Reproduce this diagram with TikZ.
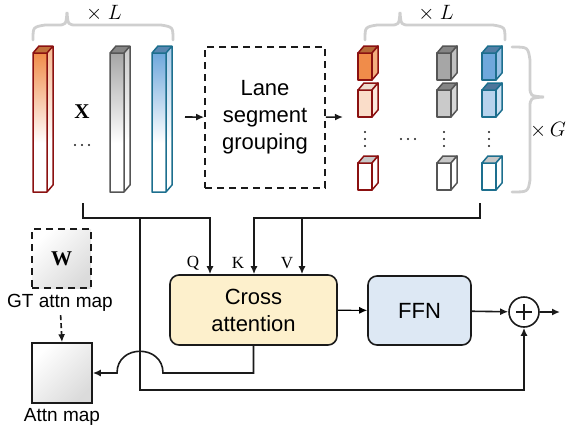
\documentclass[tikz,border=0pt]{standalone}
\usepackage{fontspec}
\setmainfont{Liberation Sans}
\newfontfamily\seriffont{Liberation Serif}
\usetikzlibrary{positioning,arrows.meta,calc}

\definecolor{darkink}{HTML}{1A1A1A}
\definecolor{bracegray}{HTML}{CFCFCF}
\definecolor{redline}{HTML}{8B1111}
\definecolor{grayline}{HTML}{555555}
\definecolor{blueline}{HTML}{1D6F8E}
\definecolor{orangefill}{HTML}{F08C4A}
\definecolor{grayfill}{HTML}{A6A6A6}
\definecolor{bluefill}{HTML}{6FA8DC}
\definecolor{crossfill}{HTML}{FDF0CC}
\definecolor{ffnfill}{HTML}{DDE8F4}

% tall feature bar: x, front colour, side colour, top colour, border
\newcommand{\featbar}[5]{%
  \shade[top color=#2, bottom color=white] (#1,53) rectangle (#1+14,143);
  \shade[top color=#3, bottom color=white] (#1+14,53) -- (#1+20,46) -- (#1+20,136) -- (#1+14,143) -- cycle;
  \fill[#4] (#1,53) -- (#1+6,46) -- (#1+20,46) -- (#1+14,53) -- cycle;
  \draw[#5, line width=1.5pt, line join=round] (#1,53) rectangle (#1+14,192)
    (#1,53) -- (#1+6,46) -- (#1+20,46) -- (#1+20,185) -- (#1+14,192)
    (#1+14,53) -- (#1+20,46);
}
% small segment cube: x, y, front, side, top, border
\newcommand{\segcube}[6]{%
  \filldraw[fill=#3, draw=#6, line width=1.5pt, line join=round] (#1,#2) rectangle (#1+14,#2+27);
  \filldraw[fill=#5, draw=#6, line width=1.5pt, line join=round] (#1,#2) -- (#1+6,#2-7) -- (#1+20,#2-7) -- (#1+14,#2) -- cycle;
  \filldraw[fill=#4, draw=#6, line width=1.5pt, line join=round] (#1+14,#2) -- (#1+20,#2-7) -- (#1+20,#2+20) -- (#1+14,#2+27) -- cycle;
}

\begin{document}
\begin{tikzpicture}[
  x=1pt, y=-1pt,
  block/.style={draw=darkink, line width=1.6pt, rounded corners=9pt, align=center, font=\fontsize{22}{27}\selectfont},
  arr/.style={-{Latex[length=8pt,width=7pt]}, line width=1.6pt, color=darkink},
  brace/.style={draw=bracegray, line width=2.8pt, line cap=round},
  lbl/.style={font=\fontsize{19}{22}\selectfont},
  mathlbl/.style={font=\fontsize{20}{22}\selectfont},
  boldlbl/.style={font=\seriffont\bfseries\fontsize{21}{21}\selectfont},
  qkv/.style={font=\seriffont\fontsize{17}{17}\selectfont},
  dot/.style={fill=darkink},
  mapbox/.style={draw=darkink, line width=1.6pt, top color=white, middle color=white, bottom color=black!14, shading angle=45},
  dashbox/.style={draw=darkink, line width=1.6pt, dash pattern=on 7pt off 5pt}
]
  \useasboundingbox (0,0) rectangle (568,429);

  % Per-layer features
  \featbar{33}{orangefill}{orangefill!60}{orangefill!80!black}{redline}
  \featbar{110}{grayfill}{grayfill!60}{grayfill!80!black}{grayline}
  \featbar{152}{bluefill}{bluefill!60}{bluefill!80!black}{blueline}
  \node[boldlbl] (xlbl) at (82,112) {X};
  \foreach \xx in {75,82,89}
    \fill[dot] (\xx,145) circle (1.2);
  \path[brace] (33,40) .. controls (33,27) .. (45,25) -- (57,25) .. controls (66,25) .. (67,12)
    .. controls (68,25) .. (77,25) -- (161,25) .. controls (173,27) .. (173,40);
  \node[mathlbl] (lbl_l1) at (104,13) {$\times\ L$};

  % Grouping
  \node[dashbox, minimum width=120pt, minimum height=141pt, align=center, font=\fontsize{22}{27}\selectfont] (lane) at (265,117.5) {Lane\\segment\\grouping};

  % Grouped segments
  \foreach \yy/\fr/\sd/\tp in {53/orangefill/orangefill!70/orangefill!75!black, 90/orangefill!30/orangefill!18/black!22!orangefill!25, 163/white/white/black!22}
    \segcube{358}{\yy}{\fr}{\sd}{\tp}{redline};
  \foreach \yy/\fr/\sd/\tp in {53/grayfill/grayfill!70/grayfill!80!black, 90/grayfill!60/grayfill!45/grayfill!80!black, 163/white/white/black!22}
    \segcube{437}{\yy}{\fr}{\sd}{\tp}{grayline};
  \foreach \yy/\fr/\sd/\tp in {53/bluefill/bluefill!70/bluefill!75!black, 90/bluefill!50/bluefill!35/bluefill!70!black, 163/white/white/black!22}
    \segcube{482}{\yy}{\fr}{\sd}{\tp}{blueline};
  \foreach \xx in {365,444,489}
    \foreach \yy in {132,139,146}
      \fill[dot] (\xx,\yy) circle (1.2);
  \foreach \xx in {401,408,415}
    \fill[dot] (\xx,139) circle (1.2);
  \path[brace] (365,40) .. controls (365,27) .. (377,25) -- (390,25) .. controls (399,25) .. (400,12)
    .. controls (401,25) .. (410,25) -- (493,25) .. controls (505,27) .. (505,40);
  \node[mathlbl] (lbl_l2) at (436,13) {$\times\ L$};
  \path[brace] (512,47) .. controls (528,47) .. (530,60) -- (530,86) .. controls (530,96) .. (544,97)
    .. controls (530,98) .. (530,108) -- (530,180) .. controls (528,192) .. (512,192);
  \node[mathlbl, anchor=east, inner xsep=1pt] (lbl_g) at (567,130) {$\times\,G$};

  % Decoder blocks
  \node[block, fill=crossfill, minimum width=167pt, minimum height=70pt] (cross) at (253.5,310) {Cross\\attention};
  \node[block, fill=ffnfill, minimum width=103pt, minimum height=69pt] (ffn) at (419.5,310.5) {FFN};
  \node[draw=darkink, circle, line width=1.6pt, minimum size=30pt, inner sep=0pt,
        path picture={\draw[line width=1.8pt] ($(path picture bounding box.center)+(-8,0)$) -- ($(path picture bounding box.center)+(8,0)$)
                      ($(path picture bounding box.center)+(0,-8)$) -- ($(path picture bounding box.center)+(0,8)$);}] (plus) at (524,312) {};

  % Attention maps
  \node[dashbox, mapbox, minimum size=59pt] (wbox) at (61.5,258.5) {};
  \node[boldlbl] (wlbl) at (wbox) {W};
  \node[lbl] (gtlbl) at (60,303) {GT attn map};
  \node[mapbox, minimum size=60pt] (attn) at (62,373) {};
  \node[lbl] (attnlbl) at (62,417) {Attn map};

  \node[qkv] (qlbl) at (193,263) {Q};
  \node[qkv] (klbl) at (238,263) {K};
  \node[qkv] (vlbl) at (287,263) {V};

  % Taps and corners
  \coordinate (barsout) at (185,117);
  \coordinate (cubesin) at (343,117);
  \coordinate (xfeat) at (83,203);
  \coordinate (gfeat) at (480,203);
  \coordinate (qtap) at (210,218);
  \coordinate (rtap) at (140,218);
  \coordinate (rcorner) at (140,390);
  \coordinate (ktap) at (254,218);
  \coordinate (vtap) at (302,218);
  \coordinate (hopr) at (163,373);
  \coordinate (hopl) at (117,373);
  \coordinate (out) at (560,312);

  % Arrows
  \draw[arr] (barsout) -- (lane);
  \draw[arr] (lane) -- (cubesin);
  \draw[arr] (xfeat) |- (qtap) -- (qtap |- cross.north);
  \draw[arr] (gfeat) |- (ktap) -- (ktap |- cross.north);
  \draw[arr] (vtap) -- (vtap |- cross.north);
  \draw[arr] (rtap) -- (rcorner) -| (plus.south);
  \draw[-{Latex[length=8pt,width=7pt]}, line width=1.1pt] (cross) -- (ffn);
  \draw[arr] (ffn) -- (plus);
  \draw[arr] (plus) -- (out);
  \draw[arr] (cross.south) |- (hopr) .. controls (163,344) and (117,344) .. (hopl) -- (attn.east);
  \draw[arr, dash pattern=on 5pt off 3pt] (gtlbl) -- (attn.north);
\end{tikzpicture}
\end{document}
